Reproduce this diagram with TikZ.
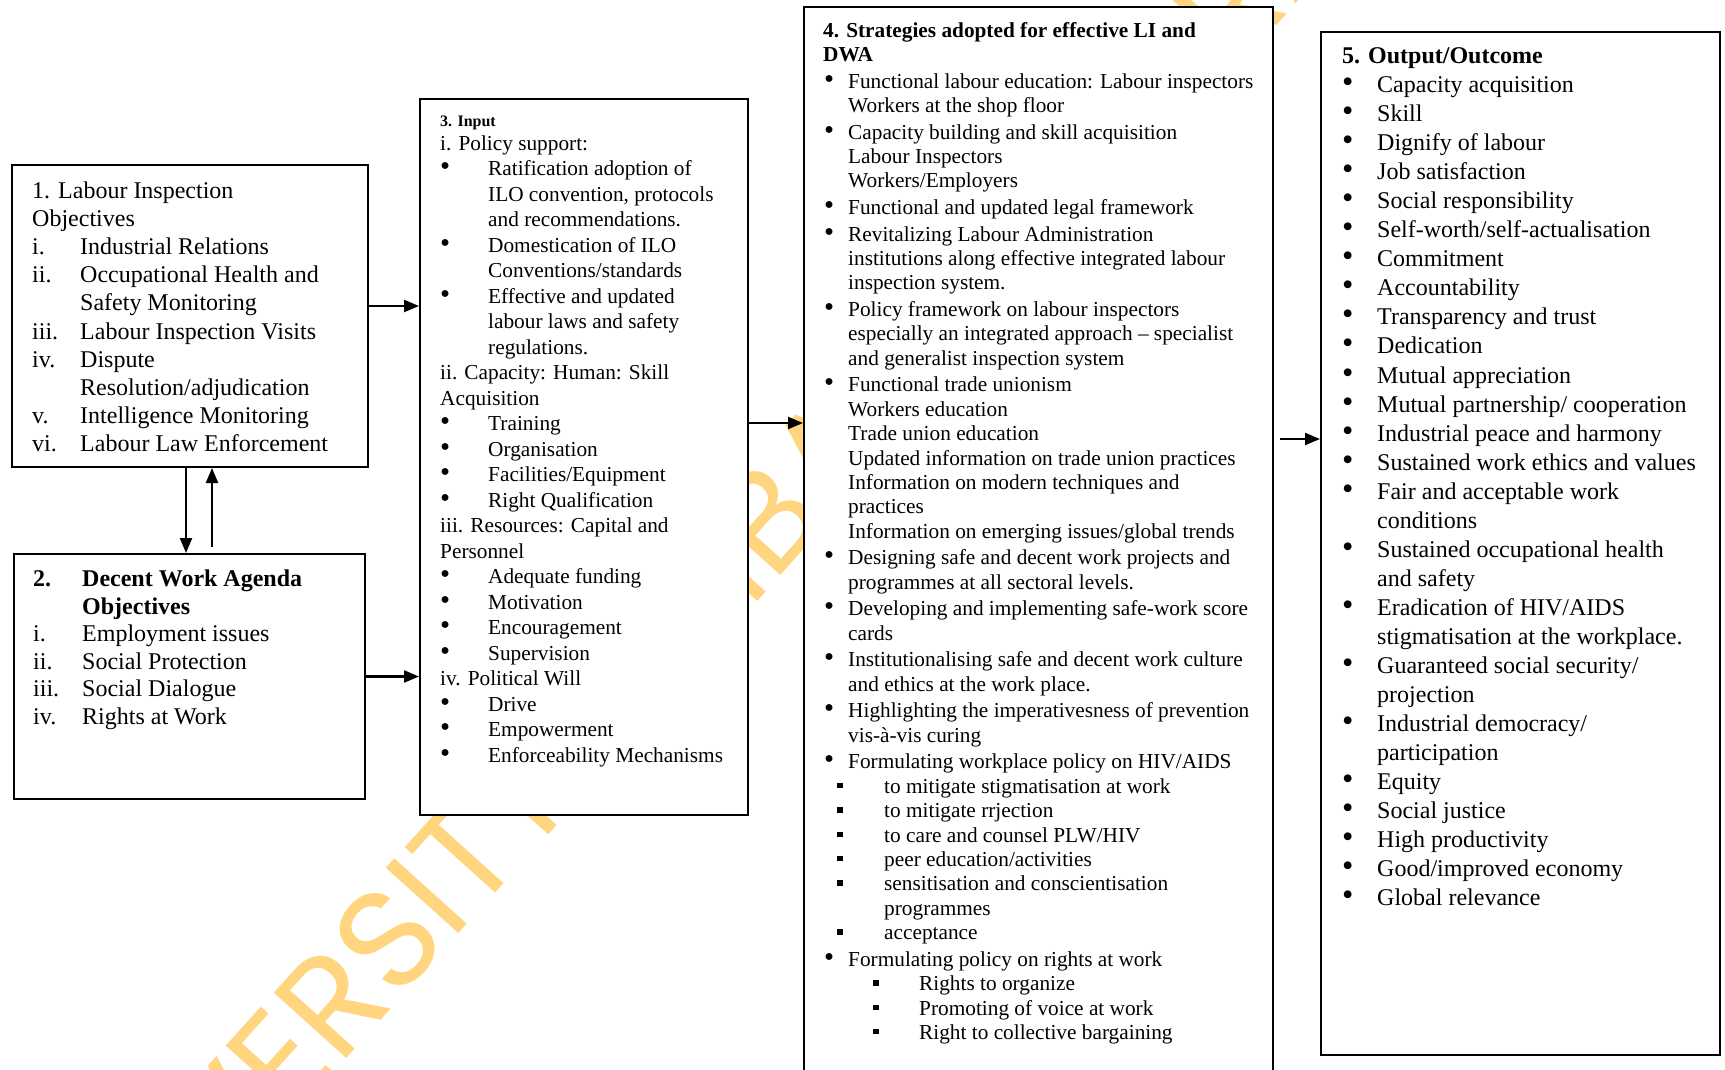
\documentclass[tikz,border=0pt]{standalone}
\usepackage{fontspec}
\usepackage{graphicx}
\setmainfont{Liberation Serif}
\newfontfamily\wmfont{Poppins}
\usetikzlibrary{arrows.meta}

\definecolor{wmorange}{RGB}{255,213,128}

% hanging labels for the list lines
\newcommand{\lab}[2]{\makebox[#1][l]{#2}}
\newcommand{\ind}[1]{\hspace*{#1}}
\newcommand{\bl}[2]{\makebox[#1][l]{\hspace{#2}\scalebox{1.35}{\textbullet}}}
\newcommand{\sq}[2]{\makebox[#1][l]{\hspace{#2}\rule[5pt]{5.5pt}{5.5pt}}}

\begin{document}
\begin{tikzpicture}[x=1pt,y=-1pt,
    box/.style={draw, line width=2pt, fill=white, anchor=north west, inner sep=0pt},
    txt/.style={anchor=north west, inner sep=0pt, align=left},
    arr/.style={line width=2.2pt, -{Triangle[length=15pt,width=12pt]}}]
  \clip (0,0) rectangle (1725,1070);

  % watermark behind the boxes
  \node[text=wmorange, font=\wmfont\fontsize{140}{140}\selectfont,
        rotate=48, anchor=base west, inner sep=0pt] (wm) at (76,1359)
        {UNIVERSITY OF IBADAN LIBRARY};

  % boxes
  \node[box, minimum width=356pt, minimum height=302pt] (inspect) at (11,164) {};
  \node[box, minimum width=351pt, minimum height=245pt] (agenda) at (13,553) {};
  \node[box, minimum width=328pt, minimum height=716pt] (input) at (419,98) {};
  \node[box, minimum width=469pt, minimum height=1100pt] (strat) at (803,6) {};
  \node[box, minimum width=399pt, minimum height=1023pt] (output) at (1320,31) {};

  % 1.
  \node[txt, font=\fontsize{24}{28.1}\selectfont] (inspecttxt) at (32,181.7)
    {1. Labour Inspection\\
     Objectives\\
     \lab{48pt}{i.}Industrial Relations\\
     \lab{48pt}{ii.}Occupational Health and\\
     \ind{48pt}Safety Monitoring\\
     \lab{48pt}{iii.}Labour Inspection Visits\\
     \lab{48pt}{iv.}Dispute\\
     \ind{48pt}Resolution/adjudication\\
     \lab{48pt}{v.}Intelligence Monitoring\\
     \lab{48pt}{vi.}Labour Law Enforcement};

  % 2.
  \node[txt, font=\fontsize{24}{27.5}\selectfont] (agendatxt) at (33,570)
    {\textbf{\lab{49pt}{2.}Decent Work Agenda}\\
     \ind{49pt}\textbf{Objectives}\\
     \lab{49pt}{i.}Employment issues\\
     \lab{49pt}{ii.}Social Protection\\
     \lab{49pt}{iii.}Social Dialogue\\
     \lab{49pt}{iv.}Rights at Work};

  % 3.
  \node[txt, font=\fontsize{16}{19}\selectfont\bfseries] (inputttl) at (440,116) {3. Input};
  \node[txt, font=\fontsize{21.3}{25.5}\selectfont] (inputtxt) at (440,135.3)
    {i. Policy support:\\
     \bl{48pt}{0pt}Ratification adoption of\\
     \ind{48pt}ILO convention, protocols\\
     \ind{48pt}and recommendations.\\
     \bl{48pt}{0pt}Domestication of ILO\\
     \ind{48pt}Conventions/standards\\
     \bl{48pt}{0pt}Effective and updated\\
     \ind{48pt}labour laws and safety\\
     \ind{48pt}regulations.\\
     ii. Capacity: Human: Skill\\
     Acquisition\\
     \bl{48pt}{0pt}Training\\
     \bl{48pt}{0pt}Organisation\\
     \bl{48pt}{0pt}Facilities/Equipment\\
     \bl{48pt}{0pt}Right Qualification\\
     iii. Resources: Capital and\\
     Personnel\\
     \bl{48pt}{0pt}Adequate funding\\
     \bl{48pt}{0pt}Motivation\\
     \bl{48pt}{0pt}Encouragement\\
     \bl{48pt}{0pt}Supervision\\
     iv. Political Will\\
     \bl{48pt}{0pt}Drive\\
     \bl{48pt}{0pt}Empowerment\\
     \bl{48pt}{0pt}Enforceability Mechanisms};

  % 4.
  \node[txt, font=\fontsize{21.3}{24.4}\selectfont] (strattxt) at (823,22)
    {\textbf{4. Strategies adopted for effective LI and}\\
     \textbf{DWA}\\[2pt]
     \bl{25pt}{1pt}Functional labour education: Labour inspectors\\
     \ind{25pt}Workers at the shop floor\\[2.2pt]
     \bl{25pt}{1pt}Capacity building and skill acquisition\\
     \ind{25pt}Labour Inspectors\\
     \ind{25pt}Workers/Employers\\[2.2pt]
     \bl{25pt}{1pt}Functional and updated legal framework\\[2.2pt]
     \bl{25pt}{1pt}Revitalizing Labour Administration\\
     \ind{25pt}institutions along effective integrated labour\\
     \ind{25pt}inspection system.\\[2.2pt]
     \bl{25pt}{1pt}Policy framework on labour inspectors\\
     \ind{25pt}especially an integrated approach -- specialist\\
     \ind{25pt}and generalist inspection system\\[2.2pt]
     \bl{25pt}{1pt}Functional trade unionism\\
     \ind{25pt}Workers education\\
     \ind{25pt}Trade union education\\
     \ind{25pt}Updated information on trade union practices\\
     \ind{25pt}Information on modern techniques and\\
     \ind{25pt}practices\\
     \ind{25pt}Information on emerging issues/global trends\\[2.2pt]
     \bl{25pt}{1pt}Designing safe and decent work projects and\\
     \ind{25pt}programmes at all sectoral levels.\\[2.2pt]
     \bl{25pt}{1pt}Developing and implementing safe-work score\\
     \ind{25pt}cards\\[2.2pt]
     \bl{25pt}{1pt}Institutionalising safe and decent work culture\\
     \ind{25pt}and ethics at the work place.\\[2.2pt]
     \bl{25pt}{1pt}Highlighting the imperativesness of prevention\\
     \ind{25pt}vis-à-vis curing\\[2.2pt]
     \bl{25pt}{1pt}Formulating workplace policy on HIV/AIDS\\
     \sq{61pt}{14pt}to mitigate stigmatisation at work\\
     \sq{61pt}{14pt}to mitigate rrjection\\
     \sq{61pt}{14pt}to care and counsel PLW/HIV\\
     \sq{61pt}{14pt}peer education/activities\\
     \sq{61pt}{14pt}sensitisation and conscientisation\\
     \ind{61pt}programmes\\
     \sq{61pt}{14pt}acceptance\\[2.2pt]
     \bl{25pt}{1pt}Formulating policy on rights at work\\
     \sq{96pt}{50pt}Rights to organize\\
     \sq{96pt}{50pt}Promoting of voice at work\\
     \sq{96pt}{50pt}Right to collective bargaining};

  % 5.
  \node[txt, font=\fontsize{24}{29.05}\selectfont] (outputtxt) at (1342,47.4)
    {\textbf{5. Output/Outcome}\\
     \bl{35pt}{0pt}Capacity acquisition\\
     \bl{35pt}{0pt}Skill\\
     \bl{35pt}{0pt}Dignify of labour\\
     \bl{35pt}{0pt}Job satisfaction\\
     \bl{35pt}{0pt}Social responsibility\\
     \bl{35pt}{0pt}Self-worth/self-actualisation\\
     \bl{35pt}{0pt}Commitment\\
     \bl{35pt}{0pt}Accountability\\
     \bl{35pt}{0pt}Transparency and trust\\
     \bl{35pt}{0pt}Dedication\\
     \bl{35pt}{0pt}Mutual appreciation\\
     \bl{35pt}{0pt}Mutual partnership/ cooperation\\
     \bl{35pt}{0pt}Industrial peace and harmony\\
     \bl{35pt}{0pt}Sustained work ethics and values\\
     \bl{35pt}{0pt}Fair and acceptable work\\
     \ind{35pt}conditions\\
     \bl{35pt}{0pt}Sustained occupational health\\
     \ind{35pt}and safety\\
     \bl{35pt}{0pt}Eradication of HIV/AIDS\\
     \ind{35pt}stigmatisation at the workplace.\\
     \bl{35pt}{0pt}Guaranteed social security/\\
     \ind{35pt}projection\\
     \bl{35pt}{0pt}Industrial democracy/\\
     \ind{35pt}participation\\
     \bl{35pt}{0pt}Equity\\
     \bl{35pt}{0pt}Social justice\\
     \bl{35pt}{0pt}High productivity\\
     \bl{35pt}{0pt}Good/improved economy\\
     \bl{35pt}{0pt}Global relevance};

  % arrows
  \draw[arr] ([yshift=10pt]inspect.east) -- ([yshift=10pt]inspect.east -| input.west);
  \draw[arr] (agenda.east) -- (agenda.east -| input.west);
  \draw[arr] ([xshift=-4pt]inspect.south) -- ([xshift=-4pt]inspect.south |- agenda.north);
  \draw[arr] ([xshift=22.5pt,yshift=6pt]agenda.north) -- ([xshift=22.5pt]agenda.north |- inspect.south);
  \draw[arr] ([yshift=34pt]input.east) -- ([yshift=34pt]input.east -| strat.west);
  \draw[arr, shorten <=6pt] ([yshift=104.5pt]output.west -| strat.east) -- ([yshift=104.5pt]output.west);
\end{tikzpicture}
\end{document}
